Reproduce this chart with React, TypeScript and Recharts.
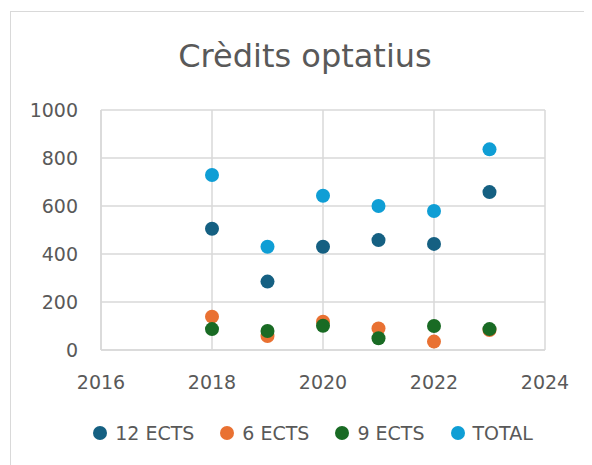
import { ScatterChart, Scatter, XAxis, YAxis, CartesianGrid } from "recharts";

const years = [2018, 2019, 2020, 2021, 2022, 2023];
const ects12 = [505, 285, 430, 458, 442, 658];
const ects6 = [139, 58, 118, 90, 35, 83];
const ects9 = [87, 79, 101, 49, 100, 87];
const total = [729, 430, 643, 600, 579, 836];
const xTicks = [2016, 2018, 2020, 2022, 2024];
const yTicks = [0, 200, 400, 600, 800, 1000];

const series = [
  { name: "12 ECTS", values: ects12, color: "#156082" },
  { name: "6 ECTS", values: ects6, color: "#E97132" },
  { name: "9 ECTS", values: ects9, color: "#196B24" },
  { name: "TOTAL", values: total, color: "#0F9ED5" },
];

const toPoints = (vals: number[]) => years.map((y, i) => ({ year: y, value: vals[i] }));

const FONT = "'DejaVu Sans', sans-serif";
const TEXT = "#595959";
const GRID = "#D9D9D9";

const LegendRow = () => (
  <div
    style={{
      display: "flex",
      justifyContent: "center",
      gap: 26,
      fontFamily: FONT,
      fontSize: 19,
      color: TEXT,
    }}
  >
    {series.map((s) => (
      <div key={s.name} style={{ display: "flex", alignItems: "center" }}>
        <span
          style={{
            width: 14,
            height: 14,
            borderRadius: 7,
            background: s.color,
            display: "inline-block",
            marginRight: 8,
          }}
        />
        {s.name}
      </div>
    ))}
  </div>
);

const App = () => {
  return (
    <div style={{ width: 584, height: 457, overflow: "hidden", position: "relative" }}>
      <div
        style={{
          position: "absolute",
          left: 2,
          top: 3,
          width: 700,
          height: 600,
          borderTop: "1.5px solid " + GRID,
          borderLeft: "1.5px solid " + GRID,
        }}
      />
      <div
        style={{
          position: "absolute",
          left: 0,
          top: 29,
          width: 594,
          textAlign: "center",
          fontFamily: FONT,
          fontSize: 32,
          color: TEXT,
        }}
      >
        Crèdits optatius
      </div>
      <div style={{ position: "absolute", left: 0, top: 0 }}>
        <ScatterChart width={592} height={457} margin={{ top: 102, right: 55, bottom: 75, left: 0 }}>
          <CartesianGrid stroke={GRID} strokeWidth={1.5} />
          <XAxis
            type="number"
            dataKey="year"
            domain={[2016, 2024]}
            ticks={xTicks}
            tickLine={false}
            axisLine={{ stroke: GRID, strokeWidth: 1.5 }}
            tick={{ fill: TEXT, fontSize: 19, fontFamily: FONT }}
            tickMargin={20}
            height={40}
          />
          <YAxis
            type="number"
            dataKey="value"
            domain={[0, 1000]}
            ticks={yTicks}
            tickLine={false}
            axisLine={{ stroke: GRID, strokeWidth: 1.5 }}
            tick={{ fill: TEXT, fontSize: 19, fontFamily: FONT }}
            tickMargin={17}
            width={93}
          />
          {series.map((s) => (
            <Scatter
              key={s.name}
              name={s.name}
              data={toPoints(s.values)}
              fill={s.color}
              shape={(p: any) => <circle cx={p.cx} cy={p.cy} r={7} fill={s.color} />}
              isAnimationActive={false}
            />
          ))}
        </ScatterChart>
      </div>
      <div style={{ position: "absolute", top: 414, left: 8, width: 594 }}>
        <LegendRow />
      </div>
    </div>
  );
};

export default App;
